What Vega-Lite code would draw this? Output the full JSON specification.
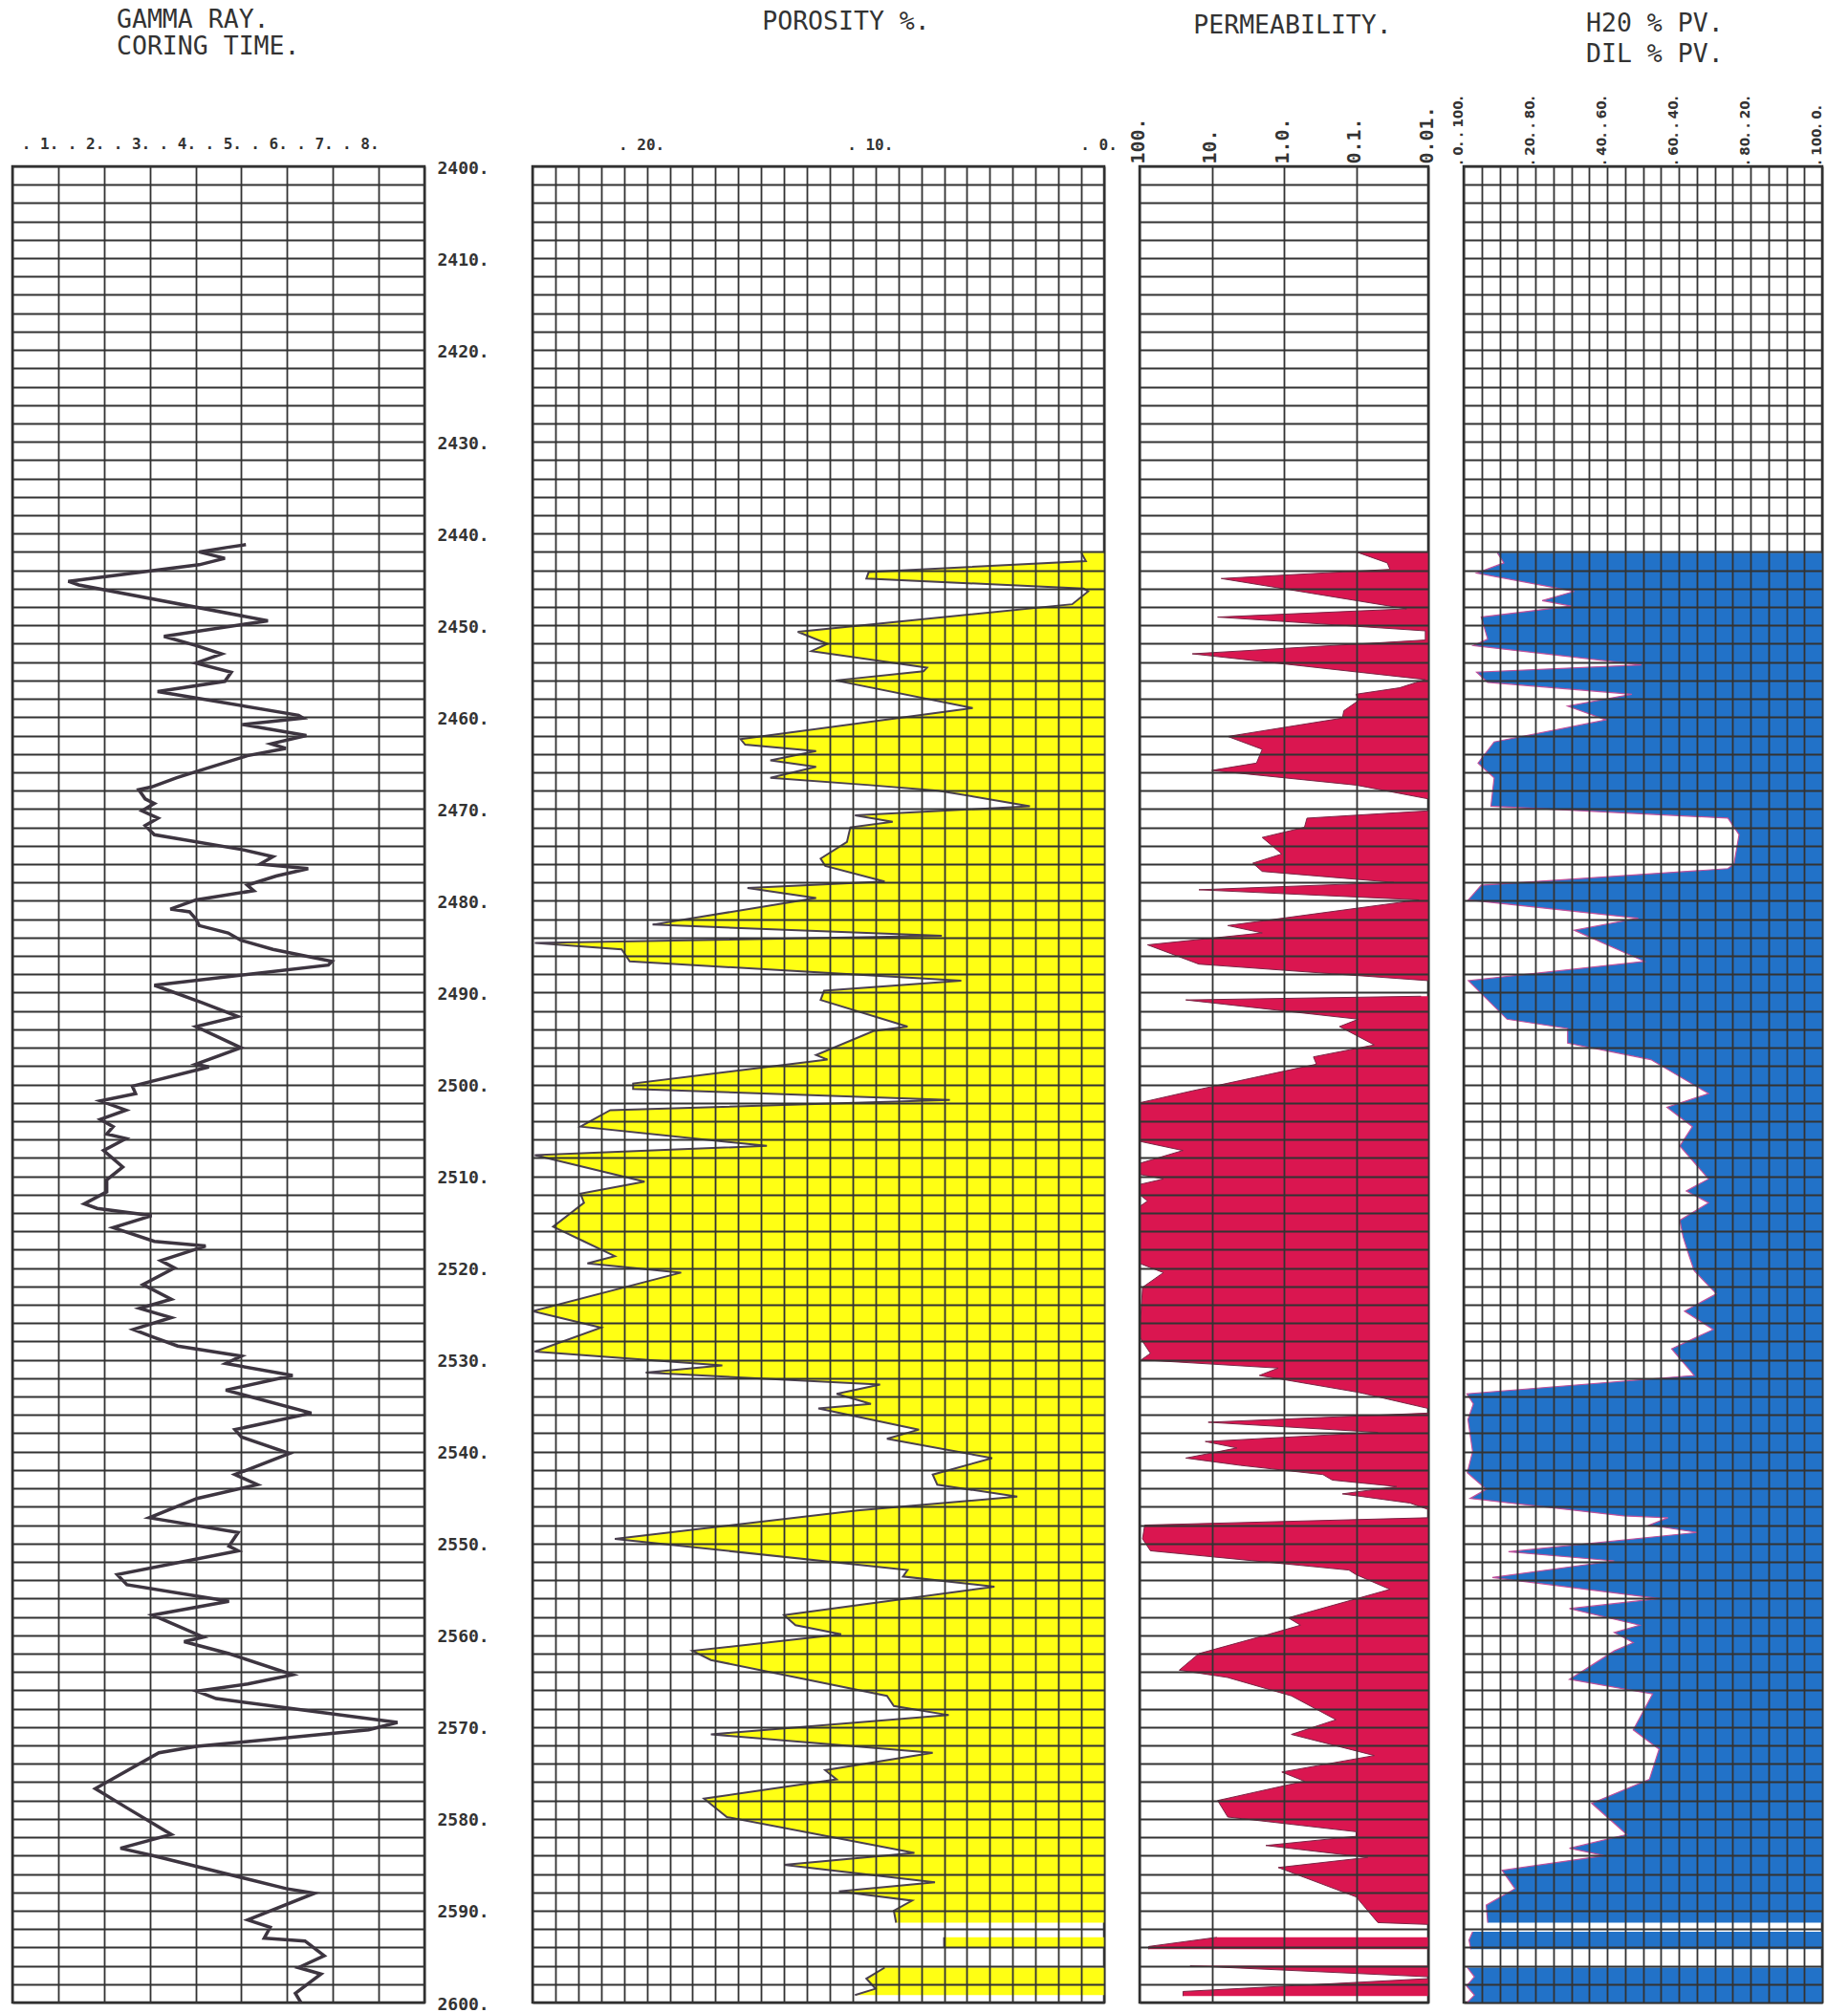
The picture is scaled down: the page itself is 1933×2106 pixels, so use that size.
{
  "$schema": "https://vega.github.io/schema/vega-lite/v6.json",
  "background": "white",
  "padding": {"left": 11, "top": 6, "right": 5, "bottom": 0},
  "config": {
    "font": "DejaVu Sans Mono",
    "view": {"stroke": "#2a2a2a", "strokeWidth": 2.5},
    "axis": {"gridColor": "#333333", "gridWidth": 1.8, "gridOpacity": 1, "labelColor": "#333333", "labelFont": "DejaVu Sans Mono", "labelFontWeight": "bold", "ticks": false, "tickSize": 0, "domain": false, "labelOverlap": false, "labelFlush": false, "title": null},
    "title": {"font": "DejaVu Sans Mono", "fontWeight": "normal", "fontSize": 26.5, "color": "#333333", "lineHeight": 29, "baseline": "bottom", "frame": "group"}
  },
  "datasets": {
    "gamma": [
      {"d":2441.2,"v":5.1},{"d":2441.5,"v":4.7},{"d":2442.0,"v":4.08},{"d":2442.7,"v":4.64},{"d":2443.4,"v":4.08},{"d":2445.2,"v":1.22},{"d":2445.6,"v":1.45},{"d":2449.5,"v":5.58},{"d":2451.2,"v":3.31},{"d":2452.2,"v":4.01},{"d":2453.1,"v":4.57},{"d":2454.1,"v":4.01},{"d":2455.1,"v":4.78},{"d":2456.1,"v":4.64},{"d":2457.2,"v":3.17},{"d":2459.8,"v":6.25},{"d":2460.1,"v":6.35},{"d":2460.8,"v":5.02},{"d":2461.6,"v":5.97},{"d":2462.0,"v":6.42},{"d":2462.9,"v":5.65},{"d":2463.4,"v":5.97},{"d":2464.2,"v":5.13},{"d":2465.5,"v":4.29},{"d":2466.6,"v":3.59},{"d":2467.6,"v":3.04},{"d":2467.9,"v":2.76},{"d":2468.9,"v":2.9},{"d":2469.4,"v":3.1},{"d":2470.2,"v":2.83},{"d":2471.0,"v":3.18},{"d":2471.8,"v":2.9},{"d":2472.8,"v":3.1},{"d":2474.4,"v":4.99},{"d":2475.2,"v":5.69},{"d":2476.0,"v":5.41},{"d":2476.5,"v":6.46},{"d":2477.3,"v":5.76},{"d":2478.3,"v":5.13},{"d":2478.9,"v":5.27},{"d":2479.9,"v":4.01},{"d":2480.9,"v":3.45},{"d":2481.2,"v":3.87},{"d":2482.0,"v":4.01},{"d":2482.7,"v":4.08},{"d":2483.5,"v":4.71},{"d":2484.3,"v":4.99},{"d":2485.3,"v":5.69},{"d":2486.6,"v":6.98},{"d":2487.0,"v":6.9},{"d":2489.2,"v":3.1},{"d":2491.1,"v":4.15},{"d":2492.6,"v":4.92},{"d":2493.7,"v":4.01},{"d":2496.0,"v":4.99},{"d":2497.8,"v":4.01},{"d":2498.1,"v":4.29},{"d":2500.2,"v":2.62},{"d":2501.0,"v":2.69},{"d":2501.8,"v":1.92},{"d":2502.8,"v":2.48},{"d":2503.8,"v":1.92},{"d":2504.6,"v":2.2},{"d":2505.4,"v":2.06},{"d":2505.9,"v":2.48},{"d":2507.2,"v":1.99},{"d":2509.0,"v":2.41},{"d":2510.4,"v":2.06},{"d":2511.7,"v":2.06},{"d":2513.0,"v":1.57},{"d":2513.5,"v":1.85},{"d":2514.3,"v":3.04},{"d":2515.6,"v":2.2},{"d":2517.1,"v":3.1},{"d":2517.6,"v":4.22},{"d":2519.2,"v":3.24},{"d":2520.0,"v":3.54},{"d":2521.8,"v":2.85},{"d":2523.4,"v":3.47},{"d":2524.4,"v":2.78},{"d":2525.4,"v":3.47},{"d":2526.7,"v":2.64},{"d":2527.5,"v":3.06},{"d":2528.5,"v":3.61},{"d":2529.6,"v":5.0},{"d":2530.4,"v":4.66},{"d":2531.7,"v":6.12},{"d":2533.3,"v":4.66},{"d":2535.8,"v":6.53},{"d":2537.6,"v":4.86},{"d":2538.4,"v":5.0},{"d":2540.2,"v":6.05},{"d":2542.5,"v":4.86},{"d":2543.6,"v":5.35},{"d":2545.1,"v":4.03},{"d":2547.2,"v":2.99},{"d":2548.8,"v":4.93},{"d":2550.3,"v":4.73},{"d":2550.8,"v":4.93},{"d":2553.4,"v":2.29},{"d":2554.5,"v":2.5},{"d":2556.3,"v":4.73},{"d":2557.8,"v":3.06},{"d":2560.2,"v":4.17},{"d":2560.7,"v":3.75},{"d":2562.0,"v":4.73},{"d":2564.3,"v":6.12},{"d":2565.3,"v":5.14},{"d":2566.1,"v":4.03},{"d":2566.9,"v":4.45},{"d":2569.5,"v":8.41},{"d":2570.3,"v":7.78},{"d":2572.1,"v":4.03},{"d":2572.8,"v":3.2},{"d":2576.7,"v":1.81},{"d":2578.8,"v":2.5},{"d":2581.7,"v":3.47},{"d":2583.2,"v":2.36},{"d":2584.0,"v":3.06},{"d":2587.6,"v":5.98},{"d":2588.1,"v":6.6},{"d":2591.0,"v":5.14},{"d":2591.8,"v":5.63},{"d":2593.0,"v":5.5},{"d":2593.3,"v":6.39},{"d":2594.9,"v":6.81},{"d":2596.2,"v":6.25},{"d":2596.9,"v":6.74},{"d":2599.0,"v":6.18},{"d":2600.0,"v":6.3}
    ],
    "poro": [
      {"d":2442.1,"v":1.0,"s":1},{"d":2443.0,"v":0.8,"s":1},{"d":2444.2,"v":10.3,"s":1},{"d":2444.9,"v":10.4,"s":1},{"d":2446.0,"v":0.9,"s":1},{"d":2446.3,"v":0.7,"s":1},{"d":2447.7,"v":1.4,"s":1},{"d":2450.7,"v":13.4,"s":1},{"d":2452.0,"v":12.1,"s":1},{"d":2452.8,"v":12.8,"s":1},{"d":2454.6,"v":7.75,"s":1},{"d":2455.0,"v":7.9,"s":1},{"d":2456.0,"v":11.75,"s":1},{"d":2459.0,"v":5.75,"s":1},{"d":2462.4,"v":15.9,"s":1},{"d":2463.0,"v":15.7,"s":1},{"d":2463.7,"v":12.6,"s":1},{"d":2464.7,"v":14.6,"s":1},{"d":2465.4,"v":12.6,"s":1},{"d":2466.6,"v":14.6,"s":1},{"d":2467.4,"v":10.25,"s":1},{"d":2468.0,"v":7.25,"s":1},{"d":2469.7,"v":3.25,"s":1},{"d":2470.7,"v":10.9,"s":1},{"d":2471.4,"v":9.25,"s":1},{"d":2472.0,"v":11.1,"s":1},{"d":2473.6,"v":11.25,"s":1},{"d":2475.4,"v":12.4,"s":1},{"d":2476.2,"v":12.2,"s":1},{"d":2477.9,"v":9.6,"s":1},{"d":2478.6,"v":15.6,"s":1},{"d":2479.7,"v":12.6,"s":1},{"d":2482.6,"v":19.75,"s":1},{"d":2483.8,"v":7.1,"s":1},{"d":2484.6,"v":24.9,"s":1},{"d":2485.3,"v":21.1,"s":1},{"d":2486.6,"v":20.75,"s":1},{"d":2488.7,"v":6.25,"s":1},{"d":2489.8,"v":12.25,"s":1},{"d":2490.8,"v":12.4,"s":1},{"d":2493.7,"v":8.6,"s":1},{"d":2494.2,"v":10.1,"s":1},{"d":2496.8,"v":12.6,"s":1},{"d":2497.3,"v":12.1,"s":1},{"d":2499.9,"v":20.6,"s":1},{"d":2500.5,"v":20.6,"s":1},{"d":2501.7,"v":6.75,"s":1},{"d":2502.8,"v":21.6,"s":1},{"d":2504.6,"v":22.9,"s":1},{"d":2506.7,"v":14.75,"s":1},{"d":2507.7,"v":24.9,"s":1},{"d":2510.6,"v":20.1,"s":1},{"d":2511.9,"v":22.9,"s":1},{"d":2512.9,"v":22.75,"s":1},{"d":2515.5,"v":24.1,"s":1},{"d":2517.1,"v":22.75,"s":1},{"d":2518.7,"v":21.4,"s":1},{"d":2519.5,"v":22.6,"s":1},{"d":2520.5,"v":18.5,"s":1},{"d":2524.7,"v":25,"s":1},{"d":2526.5,"v":22,"s":1},{"d":2529.1,"v":24.9,"s":1},{"d":2530.6,"v":16.7,"s":1},{"d":2531.4,"v":20.05,"s":1},{"d":2532.7,"v":9.8,"s":1},{"d":2533.7,"v":11.7,"s":1},{"d":2534.8,"v":10.2,"s":1},{"d":2535.3,"v":12.5,"s":1},{"d":2537.6,"v":8.1,"s":1},{"d":2538.6,"v":9.5,"s":1},{"d":2540.7,"v":4.9,"s":1},{"d":2542.5,"v":7.5,"s":1},{"d":2543.6,"v":7.3,"s":1},{"d":2544.9,"v":3.8,"s":1},{"d":2546.4,"v":10.8,"s":1},{"d":2549.5,"v":21.4,"s":1},{"d":2552.9,"v":8.6,"s":1},{"d":2553.6,"v":8.8,"s":1},{"d":2554.7,"v":4.8,"s":1},{"d":2557.8,"v":14.0,"s":1},{"d":2558.9,"v":13.5,"s":1},{"d":2559.9,"v":11.5,"s":1},{"d":2561.7,"v":18.0,"s":1},{"d":2562.7,"v":17.2,"s":1},{"d":2566.6,"v":9.5,"s":1},{"d":2567.7,"v":9.2,"s":1},{"d":2568.7,"v":6.8,"s":1},{"d":2570.8,"v":17.2,"s":1},{"d":2572.8,"v":7.5,"s":1},{"d":2574.7,"v":12.2,"s":1},{"d":2575.7,"v":11.7,"s":1},{"d":2577.8,"v":17.5,"s":1},{"d":2579.8,"v":16.5,"s":1},{"d":2583.7,"v":8.3,"s":1},{"d":2585.0,"v":14.0,"s":1},{"d":2586.9,"v":7.4,"s":1},{"d":2587.9,"v":11.6,"s":1},{"d":2588.9,"v":8.4,"s":1},{"d":2590.0,"v":9.2,"s":1},{"d":2591.3,"v":9.1,"s":1},
      {"d":2592.9,"v":7.0,"s":2},{"d":2594.0,"v":7.0,"s":2},
      {"d":2596.2,"v":9.6,"s":3},{"d":2597.4,"v":10.4,"s":3},{"d":2598.5,"v":10.0,"s":3},{"d":2599.2,"v":10.9,"s":3}
    ],
    "perm": [
      {"d":2442.0,"k":0.1,"s":1},{"d":2443.2,"k":0.037,"s":1},{"d":2443.9,"k":0.034,"s":1},{"d":2444.9,"k":7.4,"s":1},{"d":2448.2,"k":0.02,"s":1},{"d":2449.1,"k":8.3,"s":1},{"d":2450.6,"k":0.011,"s":1},{"d":2451.6,"k":0.011,"s":1},{"d":2453.1,"k":18.6,"s":1},{"d":2455.9,"k":0.011,"s":1},{"d":2456.8,"k":0.025,"s":1},{"d":2457.5,"k":0.1,"s":1},{"d":2458.2,"k":0.093,"s":1},{"d":2459.3,"k":0.148,"s":1},{"d":2460.1,"k":0.155,"s":1},{"d":2462.1,"k":6.0,"s":1},{"d":2463.5,"k":2.0,"s":1},{"d":2465.0,"k":2.4,"s":1},{"d":2465.8,"k":10,"s":1},{"d":2467.4,"k":0.1,"s":1},{"d":2468.9,"k":0.01,"s":1},
      {"d":2470.2,"k":0.01,"s":2},{"d":2471.0,"k":0.48,"s":2},{"d":2472.0,"k":0.52,"s":2},{"d":2473.1,"k":2.0,"s":2},{"d":2474.9,"k":1.07,"s":2},{"d":2475.9,"k":2.7,"s":2},{"d":2476.8,"k":2.0,"s":2},{"d":2478.0,"k":0.03,"s":2},{"d":2478.8,"k":15.1,"s":2},{"d":2479.9,"k":0.0135,"s":2},{"d":2482.7,"k":6.0,"s":2},{"d":2483.5,"k":2.0,"s":2},{"d":2484.8,"k":77.6,"s":2},{"d":2486.9,"k":15.1,"s":2},{"d":2488.7,"k":0.01,"s":2},
      {"d":2490.4,"k":0.0126,"s":3},{"d":2490.8,"k":22.9,"s":3},{"d":2492.9,"k":0.093,"s":3},{"d":2493.7,"k":0.17,"s":3},{"d":2495.7,"k":0.056,"s":3},{"d":2497.0,"k":0.39,"s":3},{"d":2497.8,"k":0.355,"s":3},{"d":2500.7,"k":18.6,"s":3},{"d":2502.0,"k":100,"s":3},{"d":2506.2,"k":100,"s":3},{"d":2507.2,"k":25.1,"s":3},{"d":2508.6,"k":100,"s":3},{"d":2509.8,"k":100,"s":3},{"d":2510.3,"k":46.8,"s":3},{"d":2510.9,"k":100,"s":3},{"d":2512.0,"k":100,"s":3},{"d":2512.7,"k":77.6,"s":3},{"d":2513.3,"k":100,"s":3},{"d":2519.5,"k":100,"s":3},{"d":2520.5,"k":46.8,"s":3},{"d":2522.1,"k":91,"s":3},{"d":2527.5,"k":100,"s":3},{"d":2529.3,"k":70.8,"s":3},{"d":2530.0,"k":95,"s":3},{"d":2530.9,"k":1.2,"s":3},{"d":2531.7,"k":2.19,"s":3},{"d":2533.5,"k":0.1,"s":3},{"d":2533.7,"k":0.076,"s":3},{"d":2535.3,"k":0.01,"s":3},
      {"d":2535.8,"k":0.01,"s":4},{"d":2536.8,"k":11.2,"s":4},{"d":2537.9,"k":0.05,"s":4},{"d":2538.9,"k":12.3,"s":4},{"d":2539.6,"k":4.47,"s":4},{"d":2540.7,"k":22.9,"s":4},{"d":2541.5,"k":3.98,"s":4},{"d":2542.5,"k":0.288,"s":4},{"d":2543.1,"k":0.214,"s":4},{"d":2543.8,"k":0.0275,"s":4},{"d":2544.6,"k":0.155,"s":4},{"d":2545.6,"k":0.018,"s":4},{"d":2546.3,"k":0.01,"s":4},{"d":2547.2,"k":0.01,"s":4},{"d":2548.0,"k":85,"s":4},{"d":2549.5,"k":91,"s":4},{"d":2550.8,"k":70.8,"s":4},{"d":2552.9,"k":0.126,"s":4},{"d":2553.4,"k":0.1,"s":4},{"d":2555.0,"k":0.034,"s":4},{"d":2558.1,"k":0.87,"s":4},{"d":2558.9,"k":0.59,"s":4},{"d":2559.9,"k":1.62,"s":4},{"d":2562.0,"k":15.1,"s":4},{"d":2563.8,"k":28.2,"s":4},{"d":2564.6,"k":6.03,"s":4},{"d":2566.6,"k":0.79,"s":4},{"d":2569.2,"k":0.19,"s":4},{"d":2570.8,"k":0.79,"s":4},{"d":2573.1,"k":0.056,"s":4},{"d":2574.9,"k":1.07,"s":4},{"d":2575.9,"k":0.52,"s":4},{"d":2578.0,"k":8.3,"s":4},{"d":2579.8,"k":6.0,"s":4},{"d":2581.4,"k":0.1,"s":4},{"d":2581.9,"k":0.1,"s":4},{"d":2582.9,"k":1.78,"s":4},{"d":2584.2,"k":0.069,"s":4},{"d":2585.3,"k":1.2,"s":4},{"d":2588.5,"k":0.1,"s":4},{"d":2591.3,"k":0.05,"s":4},{"d":2591.5,"k":0.01,"s":4},
      {"d":2592.9,"k":8.5,"s":5},{"d":2593.9,"k":75,"s":5},{"d":2594.2,"k":75,"s":5},
      {"d":2596.0,"k":20,"s":6},{"d":2597.2,"k":0.01,"s":6},
      {"d":2597.4,"k":0.01,"s":7},{"d":2598.8,"k":25,"s":7},{"d":2599.3,"k":25,"s":7}
    ],
    "sw": [
      {"d":2442.1,"v":9.4,"s":1},{"d":2443.2,"v":11.2,"s":1},{"d":2444.3,"v":3.6,"s":1},{"d":2446.3,"v":30.8,"s":1},{"d":2447.3,"v":21.9,"s":1},{"d":2447.9,"v":30,"s":1},{"d":2449.1,"v":4.9,"s":1},{"d":2451.5,"v":6.7,"s":1},{"d":2452.2,"v":2.7,"s":1},{"d":2454.3,"v":49.6,"s":1},{"d":2455.1,"v":3.6,"s":1},{"d":2456.2,"v":6.7,"s":1},{"d":2457.5,"v":46.9,"s":1},{"d":2458.8,"v":29,"s":1},{"d":2460.3,"v":39.7,"s":1},{"d":2462.7,"v":8.5,"s":1},{"d":2465.0,"v":4,"s":1},{"d":2466.6,"v":8.5,"s":1},{"d":2469.7,"v":7.6,"s":1},{"d":2471.0,"v":73.7,"s":1},{"d":2472.8,"v":76.8,"s":1},{"d":2476.0,"v":75.4,"s":1},{"d":2476.5,"v":73.7,"s":1},{"d":2478.3,"v":4.9,"s":1},{"d":2479.9,"v":1.3,"s":1},{"d":2481.9,"v":48.7,"s":1},{"d":2483.2,"v":30.8,"s":1},{"d":2486.6,"v":50.4,"s":1},{"d":2488.7,"v":1.3,"s":1},{"d":2492.9,"v":12.1,"s":1},{"d":2493.9,"v":29,"s":1},{"d":2495.5,"v":29,"s":1},{"d":2497.3,"v":52.2,"s":1},{"d":2501.0,"v":68.3,"s":1},{"d":2502.5,"v":56.7,"s":1},{"d":2504.6,"v":63.8,"s":1},{"d":2506.7,"v":60.3,"s":1},{"d":2510.3,"v":68.3,"s":1},{"d":2511.6,"v":62.1,"s":1},{"d":2512.9,"v":68.3,"s":1},{"d":2514.8,"v":60.3,"s":1},{"d":2516.6,"v":61.2,"s":1},{"d":2518.7,"v":62.9,"s":1},{"d":2520.3,"v":64.3,"s":1},{"d":2522.8,"v":70.5,"s":1},{"d":2524.7,"v":61.6,"s":1},{"d":2526.7,"v":69.6,"s":1},{"d":2528.8,"v":58,"s":1},{"d":2531.7,"v":64.3,"s":1},{"d":2533.7,"v":0.9,"s":1},{"d":2534.8,"v":2.7,"s":1},{"d":2536.5,"v":1.2,"s":1},{"d":2540.0,"v":2.5,"s":1},{"d":2542.3,"v":1,"s":1},{"d":2544.1,"v":6.3,"s":1},{"d":2545.1,"v":1.8,"s":1},{"d":2547.0,"v":44.6,"s":1},{"d":2547.2,"v":57,"s":1},{"d":2548.0,"v":51.8,"s":1},{"d":2548.8,"v":65.2,"s":1},{"d":2550.9,"v":12.5,"s":1},{"d":2551.9,"v":42,"s":1},{"d":2553.7,"v":8,"s":1},{"d":2556.0,"v":54.5,"s":1},{"d":2557.1,"v":29.5,"s":1},{"d":2558.9,"v":49.1,"s":1},{"d":2559.7,"v":42,"s":1},{"d":2560.8,"v":47.3,"s":1},{"d":2561.7,"v":42,"s":1},{"d":2564.8,"v":29.5,"s":1},{"d":2566.4,"v":52.7,"s":1},{"d":2570.3,"v":47.3,"s":1},{"d":2572.4,"v":54.5,"s":1},{"d":2575.7,"v":51.8,"s":1},{"d":2578.3,"v":35.7,"s":1},{"d":2581.7,"v":45.5,"s":1},{"d":2583.2,"v":29.5,"s":1},{"d":2584.0,"v":39.3,"s":1},{"d":2585.6,"v":10.7,"s":1},{"d":2587.6,"v":14.3,"s":1},{"d":2589.4,"v":6.3,"s":1},{"d":2591.3,"v":6.7,"s":1},
      {"d":2592.3,"v":2.5,"s":2},{"d":2593.2,"v":1.5,"s":2},{"d":2594.2,"v":2,"s":2},
      {"d":2596.2,"v":1,"s":3},{"d":2597.2,"v":3,"s":3},{"d":2598.2,"v":0.8,"s":3},{"d":2599.2,"v":3,"s":3},{"d":2600.0,"v":1,"s":3}
    ]
  },
  "hconcat": [
    {
      "width": 431, "height": 1921,
      "title": {"text": ["GAMMA RAY.", "CORING TIME."], "anchor": "start", "align": "left", "dx": 109, "offset": 80, "lineHeight": 28},
      "data": {"name": "gamma"},
      "mark": {"type": "line", "color": "#3d3540", "strokeWidth": 3.5, "clip": true},
      "encoding": {
        "y": {"field": "d", "type": "quantitative", "scale": {"domain": [2400, 2600], "reverse": true, "nice": false, "zero": false},
          "axis": {"orient": "right", "grid": true, "values": [2400,2402,2404,2406,2408,2410,2412,2414,2416,2418,2420,2422,2424,2426,2428,2430,2432,2434,2436,2438,2440,2442,2444,2446,2448,2450,2452,2454,2456,2458,2460,2462,2464,2466,2468,2470,2472,2474,2476,2478,2480,2482,2484,2486,2488,2490,2492,2494,2496,2498,2500,2502,2504,2506,2508,2510,2512,2514,2516,2518,2520,2522,2524,2526,2528,2530,2532,2534,2536,2538,2540,2542,2544,2546,2548,2550,2552,2554,2556,2558,2560,2562,2564,2566,2568,2570,2572,2574,2576,2578,2580,2582,2584,2586,2588,2590,2592,2594,2596,2598,2600],
            "labelExpr": "datum.value % 10 === 0 ? datum.value + '.' : ''", "labelFontSize": 18, "labelPadding": 13, "labelAlign": "left", "labelBaseline": "middle", "labelOffset": 2}},
        "x": {"field": "v", "type": "quantitative", "scale": {"domain": [0, 9], "nice": false, "zero": false},
          "axis": {"orient": "top", "grid": true, "values": [0,1,2,3,4,5,6,7,8,9],
            "labelExpr": "datum.value >= 1 && datum.value <= 8 ? '. ' + datum.value + '.' : ''", "labelFontSize": 16, "labelPadding": 16, "labelAlign": "right"}},
        "order": {"field": "d", "type": "quantitative"}
      }
    },
    {
      "width": 39, "height": 1921,
      "view": {"stroke": null},
      "data": {"values": [{"a": 0}]},
      "mark": {"type": "point", "opacity": 0},
      "encoding": {}
    },
    {
      "width": 598, "height": 1921,
      "title": {"text": "POROSITY %.", "anchor": "middle", "dx": 29, "offset": 107},
      "data": {"name": "poro"},
      "encoding": {
        "y": {"field": "d", "type": "quantitative", "scale": {"domain": [2400, 2600], "reverse": true, "nice": false, "zero": false},
          "axis": {"grid": true, "labels": false, "zindex": 1, "values": [2400,2402,2404,2406,2408,2410,2412,2414,2416,2418,2420,2422,2424,2426,2428,2430,2432,2434,2436,2438,2440,2442,2444,2446,2448,2450,2452,2454,2456,2458,2460,2462,2464,2466,2468,2470,2472,2474,2476,2478,2480,2482,2484,2486,2488,2490,2492,2494,2496,2498,2500,2502,2504,2506,2508,2510,2512,2514,2516,2518,2520,2522,2524,2526,2528,2530,2532,2534,2536,2538,2540,2542,2544,2546,2548,2550,2552,2554,2556,2558,2560,2562,2564,2566,2568,2570,2572,2574,2576,2578,2580,2582,2584,2586,2588,2590,2592,2594,2596,2598,2600]}},
        "x": {"field": "v", "type": "quantitative", "scale": {"domain": [0, 25], "reverse": true, "nice": false, "zero": false},
          "axis": {"orient": "top", "grid": true, "zindex": 1, "values": [0,1,2,3,4,5,6,7,8,9,10,11,12,13,14,15,16,17,18,19,20,21,22,23,24,25],
            "labelExpr": "datum.value === 20 ? '. 20.' : datum.value === 10 ? '. 10.' : datum.value === 0 ? '. 0.' : ''", "labelFontSize": 16, "labelPadding": 15, "labelOffset": -6}}
      },
      "layer": [
        {"mark": {"type": "area", "orient": "horizontal", "color": "#ffff14", "clip": true},
         "encoding": {"x2": {"datum": 0}, "detail": {"field": "s"}}},
        {"mark": {"type": "line", "color": "#4a4050", "strokeWidth": 2, "clip": true},
         "encoding": {"detail": {"field": "s"}, "order": {"field": "d", "type": "quantitative"}}}
      ]
    },
    {
      "width": 302, "height": 1921,
      "title": {"text": "PERMEABILITY.", "anchor": "middle", "dx": 9, "offset": 70},
      "data": {"name": "perm"},
      "encoding": {
        "y": {"field": "d", "type": "quantitative", "scale": {"domain": [2400, 2600], "reverse": true, "nice": false, "zero": false},
          "axis": {"grid": true, "labels": false, "zindex": 1, "values": [2400,2402,2404,2406,2408,2410,2412,2414,2416,2418,2420,2422,2424,2426,2428,2430,2432,2434,2436,2438,2440,2442,2444,2446,2448,2450,2452,2454,2456,2458,2460,2462,2464,2466,2468,2470,2472,2474,2476,2478,2480,2482,2484,2486,2488,2490,2492,2494,2496,2498,2500,2502,2504,2506,2508,2510,2512,2514,2516,2518,2520,2522,2524,2526,2528,2530,2532,2534,2536,2538,2540,2542,2544,2546,2548,2550,2552,2554,2556,2558,2560,2562,2564,2566,2568,2570,2572,2574,2576,2578,2580,2582,2584,2586,2588,2590,2592,2594,2596,2598,2600]}},
        "x": {"field": "k", "type": "quantitative", "scale": {"type": "log", "domain": [0.01, 100], "reverse": true, "nice": false},
          "axis": {"orient": "top", "grid": true, "zindex": 1, "values": [0.01, 0.1, 1, 10, 100],
            "labelExpr": "datum.value >= 99 ? '100.' : datum.value >= 9 ? '10.' : datum.value >= 0.9 ? '1.0.' : datum.value >= 0.09 ? '0.1.' : '0.01.'",
            "labelAngle": 270, "labelAlign": "left", "labelBaseline": "middle", "labelFontSize": 20, "labelPadding": 3, "labelOffset": -2}}
      },
      "layer": [
        {"mark": {"type": "area", "orient": "horizontal", "color": "#da1650", "clip": true},
         "encoding": {"x2": {"datum": 0.01}, "detail": {"field": "s"}}},
        {"mark": {"type": "line", "color": "#7a2545", "strokeWidth": 1, "clip": true},
         "encoding": {"detail": {"field": "s"}, "order": {"field": "d", "type": "quantitative"}}}
      ]
    },
    {
      "width": 375, "height": 1921,
      "title": {"text": ["H20 % PV.", "DIL % PV."], "anchor": "start", "align": "left", "dx": 128, "offset": 29, "lineHeight": 32},
      "data": {"name": "sw"},
      "encoding": {
        "y": {"field": "d", "type": "quantitative", "scale": {"domain": [2400, 2600], "reverse": true, "nice": false, "zero": false},
          "axis": {"grid": true, "labels": false, "zindex": 1, "values": [2400,2402,2404,2406,2408,2410,2412,2414,2416,2418,2420,2422,2424,2426,2428,2430,2432,2434,2436,2438,2440,2442,2444,2446,2448,2450,2452,2454,2456,2458,2460,2462,2464,2466,2468,2470,2472,2474,2476,2478,2480,2482,2484,2486,2488,2490,2492,2494,2496,2498,2500,2502,2504,2506,2508,2510,2512,2514,2516,2518,2520,2522,2524,2526,2528,2530,2532,2534,2536,2538,2540,2542,2544,2546,2548,2550,2552,2554,2556,2558,2560,2562,2564,2566,2568,2570,2572,2574,2576,2578,2580,2582,2584,2586,2588,2590,2592,2594,2596,2598,2600]}},
        "x": {"field": "v", "type": "quantitative", "scale": {"domain": [0, 100], "nice": false, "zero": false},
          "axis": {"orient": "top", "grid": true, "zindex": 1, "values": [0,5,10,15,20,25,30,35,40,45,50,55,60,65,70,75,80,85,90,95,100],
            "labelExpr": "datum.value % 20 === 0 ? (datum.value === 100 ? '. 100. 0.' : '. ' + datum.value + '. . ' + (100 - datum.value) + '.') : ''",
            "labelFont": "DejaVu Sans", "labelAngle": 270, "labelAlign": "left", "labelBaseline": "middle", "labelFontSize": 13.5, "labelPadding": 2, "labelOffset": -6}}
      },
      "layer": [
        {"mark": {"type": "area", "orient": "horizontal", "color": "#2272c8", "clip": true},
         "encoding": {"x2": {"datum": 100}, "detail": {"field": "s"}}},
        {"mark": {"type": "line", "color": "#c0509a", "strokeWidth": 1.2, "clip": true},
         "encoding": {"detail": {"field": "s"}, "order": {"field": "d", "type": "quantitative"}}}
      ]
    }
  ],
  "spacing": 37,
  "bounds": "flush"
}
